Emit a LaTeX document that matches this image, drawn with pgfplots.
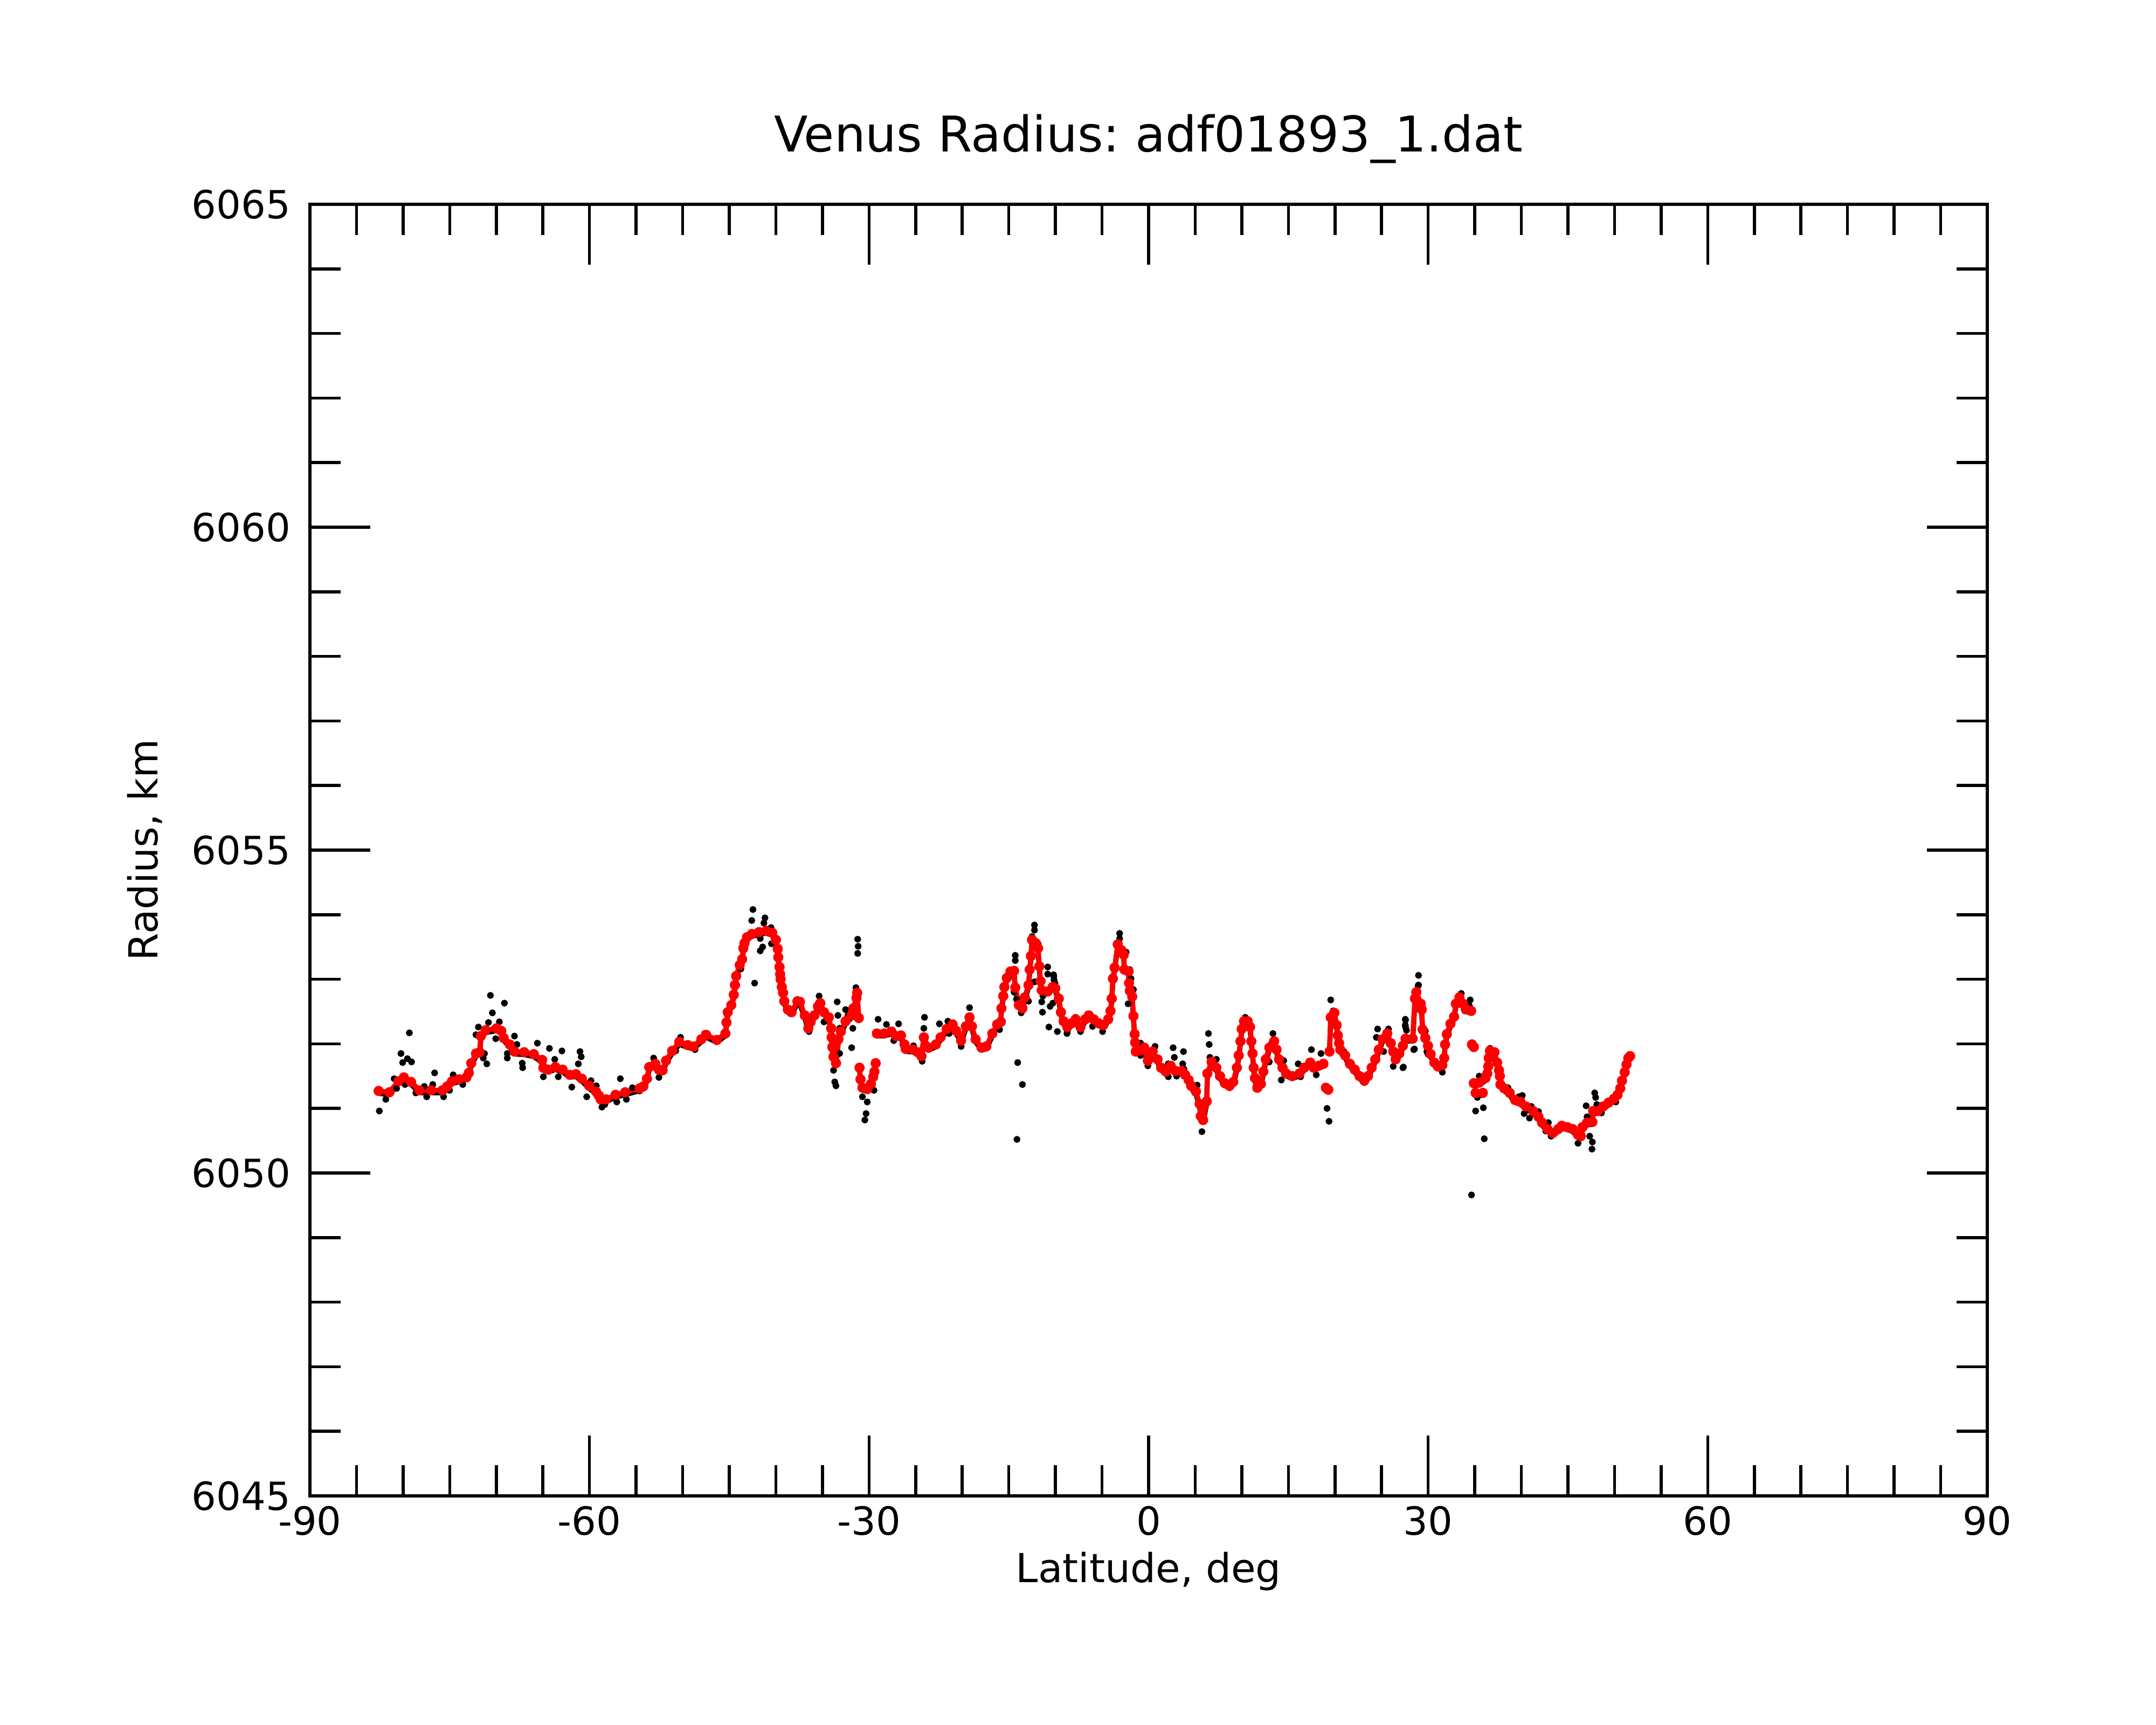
\documentclass[border=0pt]{standalone}
\usepackage{pgfplots}
\pgfplotsset{compat=1.18}
\usepackage{pgfplotstable}
\usepackage{fontspec}
\setmainfont{DejaVu Sans}
\frenchspacing

\pgfplotstableread{
lat r
-82.63 6051.27
-81.47 6051.25
-80.5 6051.42
-79.92 6051.48
-79.15 6051.41
-78.24 6051.28
-77.0 6051.28
-75.79 6051.28
-75.28 6051.34
-74.76 6051.42
-74.0 6051.45
-73.21 6051.48
-72.95 6051.55
-72.69 6051.70
-72.18 6051.85
-71.79 6051.87
-71.66 6052.12
-71.15 6052.21
-69.98 6052.24
-69.47 6052.20
-69.21 6052.09
-68.56 6051.99
-68.05 6051.88
-67.01 6051.87
-65.98 6051.84
-65.08 6051.75
-64.95 6051.63
-64.43 6051.60
-63.66 6051.64
-62.88 6051.60
-62.11 6051.52
-61.46 6051.53
-60.82 6051.46
-60.04 6051.35
-59.3 6051.26
-59.01 6051.20
-58.8 6051.14
-58.24 6051.14
-57.20 6051.21
-56.17 6051.25
-54.62 6051.31
-54.23 6051.34
-53.84 6051.46
-53.59 6051.64
-52.94 6051.69
-52.55 6051.60
-52.16 6051.59
-51.78 6051.74
-51.13 6051.89
-50.36 6052.03
-49.45 6051.98
-48.81 6051.96
-48.0 6052.07
-47.49 6052.14
-46.33 6052.06
-45.42 6052.16
-45.30 6052.33
-45.17 6052.49
-44.78 6052.60
-44.52 6052.76
-44.39 6052.91
-44.26 6053.05
-43.88 6053.22
-43.62 6053.31
-43.49 6053.48
-43.36 6053.56
-43.10 6053.65
-42.58 6053.70
-41.81 6053.73
-41.04 6053.75
-40.39 6053.72
-40.00 6053.61
-39.80 6053.47
-39.74 6053.34
-39.61 6053.19
-39.54 6053.08
-39.49 6053.00
-39.36 6052.88
-39.23 6052.79
-39.10 6052.66
-38.71 6052.53
-38.32 6052.49
-37.68 6052.66
-37.42 6052.65
-36.90 6052.44
-36.52 6052.24
-36.26 6052.34
-35.87 6052.44
-35.48 6052.58
-35.23 6052.63
-34.84 6052.49
-34.32 6052.41
-34.07 6052.24
-34.02 6052.10
-33.94 6051.95
-33.81 6051.80
-33.55 6051.70
-33.29 6052.07
-33.03 6052.19
-32.52 6052.35
-31.87 6052.44
-31.69 6052.55
-31.35 6052.71
-31.28 6052.79
-31.10 6052.40
nan nan
-31.02 6051.63
-30.92 6051.45
-30.71 6051.32
-30.19 6051.30
-29.80 6051.38
-29.55 6051.49
-29.42 6051.57
-29.29 6051.70
nan nan
-29.16 6052.16
-28.38 6052.16
-27.61 6052.19
-27.09 6052.12
-26.58 6052.13
-26.19 6051.99
-26.06 6051.92
-25.28 6051.91
-24.77 6051.87
-24.38 6051.81
-24.12 6052.10
-23.61 6051.94
-22.83 6051.99
-22.32 6052.10
-21.67 6052.23
-21.03 6052.30
-20.64 6052.20
-20.12 6052.05
-19.61 6052.27
-19.22 6052.41
-18.96 6052.27
-18.57 6052.07
-17.93 6051.94
-17.41 6051.96
-16.77 6052.16
-16.25 6052.30
-15.86 6052.34
-15.80 6052.55
-15.60 6052.74
-15.48 6052.88
-15.22 6053.02
-14.83 6053.12
-14.44 6053.13
-14.31 6052.87
-13.92 6052.60
-13.54 6052.55
-13.28 6052.72
-12.89 6052.91
-12.76 6053.15
-12.63 6053.36
-12.51 6053.61
-12.12 6053.56
-11.86 6053.48
-11.73 6053.20
-11.60 6052.97
-11.47 6052.83
-10.83 6052.81
-10.30 6052.88
-10.02 6052.86
-9.64 6052.70
-9.41 6052.49
-9.12 6052.35
-8.73 6052.26
-8.22 6052.32
-7.83 6052.38
-7.31 6052.26
-6.80 6052.38
-6.41 6052.44
-5.89 6052.38
-5.38 6052.32
-4.86 6052.29
-4.34 6052.38
-4.09 6052.51
-3.96 6052.70
-3.83 6053.01
-3.65 6053.18
-3.31 6053.54
-2.92 6053.45
-2.67 6053.38
-2.60 6053.15
-2.15 6053.12
-2.10 6052.94
-2.02 6052.82
-1.76 6052.73
-1.63 6052.43
-1.50 6052.15
-1.45 6052.02
-1.38 6051.88
-0.86 6051.90
-0.47 6051.94
-0.08 6051.74
0.43 6051.88
0.95 6051.76
1.34 6051.63
1.85 6051.57
2.37 6051.66
2.88 6051.58
3.53 6051.58
3.92 6051.52
4.30 6051.44
4.56 6051.35
5.08 6051.26
5.47 6051.07
5.60 6050.88
5.85 6050.82
6.24 6051.11
6.30 6051.54
6.76 6051.72
7.27 6051.63
7.66 6051.50
8.18 6051.39
8.69 6051.35
9.08 6051.41
9.47 6051.63
9.67 6051.82
9.86 6052.04
9.99 6052.23
10.24 6052.35
10.63 6052.35
10.89 6052.26
11.02 6052.04
11.15 6051.85
11.28 6051.63
11.41 6051.47
11.66 6051.32
12.05 6051.38
12.31 6051.57
12.57 6051.76
12.95 6051.94
13.47 6052.04
13.73 6051.91
13.99 6051.76
14.37 6051.63
14.76 6051.54
15.41 6051.50
16.18 6051.54
16.70 6051.63
17.34 6051.71
17.73 6051.63
18.25 6051.66
18.76 6051.69
nan nan
19.02 6051.32
19.28 6051.29
nan nan
19.41 6051.88
19.54 6052.41
19.93 6052.48
20.18 6052.29
20.31 6052.13
20.44 6052.01
20.57 6051.91
21.09 6051.82
21.60 6051.69
22.12 6051.60
22.64 6051.50
23.15 6051.43
23.54 6051.50
23.93 6051.63
24.32 6051.76
24.70 6051.91
25.09 6052.07
25.61 6052.16
25.99 6052.01
26.25 6051.88
26.51 6051.76
26.90 6051.85
27.29 6051.97
27.57 6052.08
28.34 6052.08
28.58 6052.70
28.73 6052.80
29.21 6052.62
29.31 6052.53
29.40 6052.22
29.69 6052.09
29.98 6051.97
30.27 6051.84
30.66 6051.71
31.04 6051.65
31.52 6051.67
31.72 6051.78
31.81 6051.99
32.00 6052.15
32.39 6052.31
32.78 6052.42
32.97 6052.62
33.35 6052.72
33.74 6052.62
34.03 6052.54
34.61 6052.51
nan nan
34.70 6051.99
34.90 6051.95
nan nan
34.90 6051.39
35.48 6051.40
36.15 6051.47
36.34 6051.54
36.44 6051.65
36.50 6051.78
36.63 6051.89
37.11 6051.87
37.40 6051.71
37.60 6051.59
37.69 6051.50
37.75 6051.37
38.17 6051.31
38.75 6051.24
39.33 6051.13
39.91 6051.10
40.49 6051.03
41.26 6050.96
41.84 6050.87
42.22 6050.78
42.80 6050.68
43.38 6050.62
43.96 6050.68
44.34 6050.73
44.92 6050.71
45.50 6050.68
46.08 6050.59
46.37 6050.57
46.56 6050.71
47.05 6050.78
47.62 6050.79
47.70 6050.96
48.20 6050.96
48.78 6051.03
49.36 6051.09
49.94 6051.15
50.32 6051.21
50.61 6051.31
50.80 6051.43
51.09 6051.56
51.28 6051.68
51.48 6051.78
51.67 6051.81
nan nan
35.09 6051.24
35.86 6051.24
}\redtab

\pgfplotstableread{
lat r
-82.55 6050.96
-81.86 6051.14
-80.96 6051.46
-80.23 6051.85
-79.33 6052.17
-80.05 6051.71
-79.54 6051.77
-79.10 6051.72
-79.80 6051.37
-80.70 6051.31
-78.63 6051.24
-77.47 6051.18
-77.73 6051.34
-76.62 6051.55
-76.82 6051.37
-75.66 6051.18
-75.02 6051.28
-74.63 6051.52
-73.60 6051.37
-72.18 6052.14
-71.92 6052.26
-70.63 6052.75
-70.42 6052.48
-70.84 6052.33
-69.67 6052.34
-69.13 6052.63
-70.06 6052.08
-71.27 6051.85
-71.40 6051.78
-71.02 6051.69
-68.82 6051.85
-68.82 6051.78
-68.05 6052.12
-67.79 6051.99
-67.22 6051.70
-67.17 6051.63
-65.59 6052.01
-64.30 6051.93
-62.96 6051.89
-63.73 6051.76
-64.95 6051.49
-63.35 6051.49
-61.90 6051.33
-61.02 6051.88
-60.89 6051.80
-61.20 6051.69
-59.84 6051.43
-60.30 6051.18
-59.27 6051.35
-58.67 6051.02
-58.36 6051.06
-56.69 6051.46
-57.07 6051.10
-56.04 6051.14
-55.40 6051.32
-54.62 6051.27
-53.12 6051.78
-52.55 6051.48
-50.23 6052.10
-50.75 6051.89
-48.68 6051.91
-47.65 6052.16
-46.36 6052.05
-42.46 6054.08
-42.59 6053.91
-41.17 6053.95
-41.29 6053.87
-40.52 6053.80
-41.68 6053.63
-41.42 6053.50
-41.68 6053.44
-40.47 6053.55
-42.28 6052.94
-43.75 6053.16
-31.22 6053.62
-31.17 6053.51
-31.22 6053.40
-31.41 6052.87
-33.42 6052.65
-33.34 6052.44
-32.52 6052.53
-32.26 6052.44
-31.87 6051.94
-33.16 6052.24
-31.74 6052.24
-35.36 6052.74
-37.55 6052.65
-38.45 6052.47
-36.44 6052.19
-34.84 6052.34
-33.81 6051.59
-33.68 6051.41
-33.55 6051.35
-33.16 6051.85
-30.71 6051.18
-30.19 6051.10
-30.32 6050.92
-30.45 6050.82
-29.47 6051.28
-29.03 6052.38
-28.13 6052.30
-26.83 6052.31
-27.35 6052.05
-25.23 6051.97
-24.30 6051.73
-24.05 6052.41
-24.12 6052.24
-22.45 6052.31
-21.54 6052.35
-21.41 6052.16
-20.12 6051.96
-19.22 6052.56
-15.99 6052.22
-14.31 6053.37
-14.31 6053.29
-14.44 6052.80
-14.18 6052.69
-13.67 6052.48
-14.05 6051.71
-13.54 6051.37
-14.13 6050.52
-12.25 6053.84
-12.25 6053.76
-12.51 6053.66
-11.86 6053.55
-12.25 6052.96
-12.89 6052.66
-11.34 6052.74
-11.47 6052.65
-10.83 6053.19
-10.83 6053.08
-10.18 6053.04
-10.05 6052.94
-10.57 6052.58
-11.39 6052.49
-10.70 6052.26
-9.79 6052.19
-8.76 6052.16
-7.86 6052.38
-10.20 6053.07
-10.15 6052.99
-10.28 6052.63
-8.73 6052.19
-7.83 6052.41
-7.31 6052.19
-6.54 6052.46
-6.02 6052.27
-4.94 6052.19
-3.11 6053.71
-3.11 6053.63
-2.41 6053.42
-2.02 6053.15
-1.89 6053.01
-1.63 6052.84
-2.20 6052.62
-0.86 6052.01
-0.86 6051.82
-0.08 6051.66
0.69 6051.96
2.11 6051.69
2.63 6051.94
2.76 6051.79
2.11 6051.49
3.74 6051.88
3.66 6051.69
3.79 6051.61
3.01 6051.50
5.21 6051.36
5.72 6050.64
6.42 6052.16
6.50 6051.99
6.58 6051.79
7.27 6051.76
8.69 6051.32
10.37 6052.41
13.34 6052.16
13.21 6052.01
12.95 6051.72
14.50 6051.74
14.24 6051.44
16.05 6051.69
16.31 6051.49
17.47 6051.91
18.50 6051.85
17.99 6051.52
19.15 6051.00
19.36 6050.80
19.54 6052.68
19.80 6052.51
20.96 6051.88
23.15 6051.40
24.57 6052.23
24.44 6052.10
25.74 6052.23
25.22 6051.88
26.25 6051.65
27.29 6051.63
27.54 6052.38
27.54 6052.29
27.67 6052.21
28.45 6051.91
28.96 6053.06
28.96 6052.91
29.86 6051.88
28.92 6052.90
27.57 6052.37
27.57 6052.26
28.53 6051.92
27.34 6051.64
29.69 6052.20
29.98 6051.84
31.52 6051.56
33.55 6052.78
34.51 6052.68
34.42 6052.59
33.93 6052.51
35.48 6051.50
35.28 6051.17
35.09 6050.96
35.92 6051.01
36.02 6050.53
34.65 6049.66
36.63 6051.93
37.98 6051.31
38.56 6051.32
39.72 6051.18
40.10 6051.20
40.30 6050.92
40.87 6050.85
41.07 6051.03
41.84 6050.95
42.90 6050.78
42.61 6050.65
43.19 6050.57
44.34 6050.74
45.60 6050.68
46.08 6050.46
46.95 6051.04
47.05 6050.87
47.33 6050.57
47.62 6050.48
47.58 6050.37
47.87 6051.24
47.97 6051.17
48.10 6051.06
48.59 6050.93
50.13 6051.10
}\blacktab

\begin{document}
\begin{tikzpicture}
\path[use as bounding box] (0,0) rectangle (722.7pt,578.16pt);
\begin{axis}[
  at={(103.89pt,76.79pt)}, anchor=south west,
  scale only axis,
  width=562.26pt, height=432.9pt,
  xmin=-90, xmax=90, ymin=6045, ymax=6065,
  xtick={-90,-60,-30,0,30,60,90},
  xticklabels={-90,-60,-30,0,30,60,90},
  ytick={6045,6050,6055,6060,6065},
  yticklabels={6045,6050,6055,6060,6065},
  minor x tick num=5,
  minor y tick num=4,
  tick pos=both,
  tick align=inside,
  major tick length=20.2pt,
  minor tick length=10.3pt,
  every tick/.style={black, line width=1pt},
  axis line style={black, line width=1pt},
  ticklabel style={font=\fontsize{13}{15}\selectfont},
  yticklabel style={xshift=-3pt},
  unbounded coords=jump,
  clip=false,
  title={Venus Radius: adf01893\_1.dat},
  title style={at={(axis description cs:0.5,1.0405)}, anchor=base, yshift=-6pt, font=\fontsize{16.5}{19}\selectfont},
  xlabel={Latitude, deg},
  xlabel style={at={(axis description cs:0.5,-0.0668)}, anchor=base, font=\fontsize{13.4}{16}\selectfont},
  ylabel={Radius, km},
  ylabel style={at={(axis description cs:-0.0909,0.5)}, anchor=base, font=\fontsize{13.4}{16}\selectfont},
]
\addplot[black, line width=1.7pt, line join=round, line cap=round, yshift=-0.8pt] table[x=lat, y=r] {\redtab};
\addplot[black, only marks, mark=*, mark size=0.95pt] table[x=lat, y=r] {\blacktab};
\addplot[red, line width=1.7pt, line join=round, line cap=round, mark=*, mark size=0.9pt, mark options={red, draw=red, fill=red}] table[x=lat, y=r] {\redtab};
\end{axis}
\end{tikzpicture}
\end{document}
